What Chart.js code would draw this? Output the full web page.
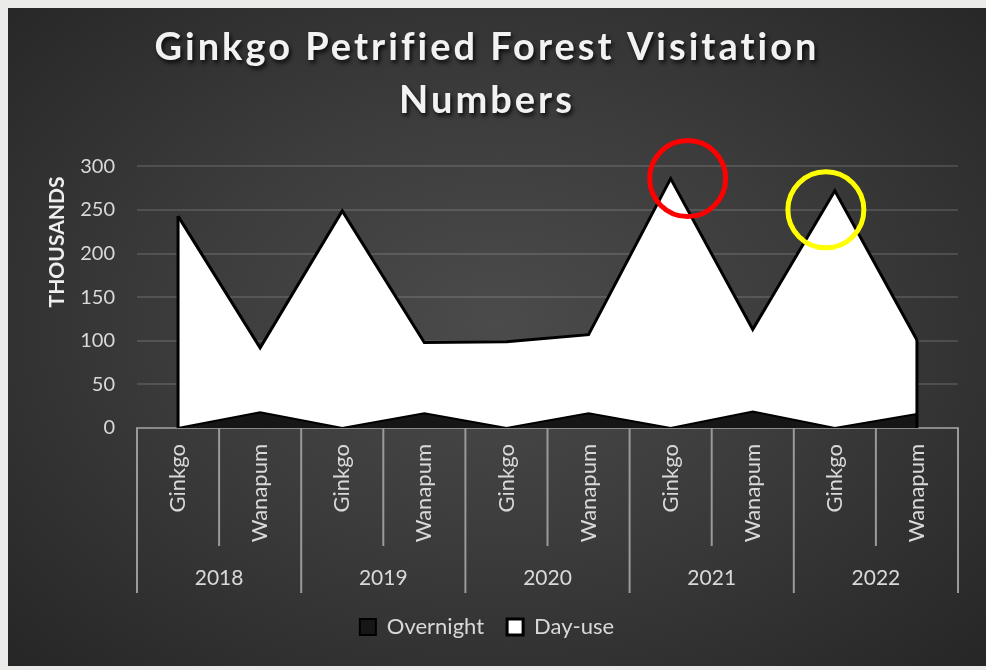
<!DOCTYPE html>
<html>
<head>
<meta charset="utf-8">
<script src="https://cdn.jsdelivr.net/npm/chart.js@4.4.0/dist/chart.umd.min.js"></script>
<style>
  body { margin: 0; background: #ebebea; }
  #box {
    position: absolute; left: 8px; top: 8px; width: 978px; height: 658px;
    background: radial-gradient(ellipse at 50% 48%, #4b4b4b 0%, #3c3c3c 45%, #262626 100%);
  }
</style>
</head>
<body>
<div id="box"><canvas id="visits" width="978" height="658"></canvas></div>
<script>
// categories
const sites = ['Ginkgo', 'Wanapum', 'Ginkgo', 'Wanapum', 'Ginkgo', 'Wanapum', 'Ginkgo', 'Wanapum', 'Ginkgo', 'Wanapum']
const years = ['2018', '2019', '2020', '2021', '2022']

// values in thousands
const overnight = [0, 18, 0, 17, 0, 17, 0, 19, 0, 16]
const dayUse = [243, 74, 249, 81, 99, 90, 286, 94, 272, 85]

const yTicks = [0, 50, 100, 150, 200, 250, 300]

const FONT = 'Lato, "Open Sans", sans-serif'
const LIGHT = '#d9d9d9'

//separator lines under the axis, plus edges of the day-use area and the two circles
const extras = {
    id: 'extras',
    afterDatasetsDraw(chart) {
        const ctx = chart.ctx
        const pts = chart.getDatasetMeta(1).data
        const bottom = chart.scales.y.getPixelForValue(0)
        ctx.save()
        ctx.strokeStyle = '#000'
        ctx.lineWidth = 3
        ;[pts[0], pts[pts.length - 1]].forEach(p => {
            ctx.beginPath()
            ctx.moveTo(p.x, p.y)
            ctx.lineTo(p.x, bottom)
            ctx.stroke()
        })
        ctx.restore()
    },
    afterDraw(chart) {
        const ctx = chart.ctx
        const x = chart.scales.x
        const yr = chart.scales.year
        ctx.save()
        ctx.strokeStyle = '#9a9a9a'
        ctx.lineWidth = 2
        for (let i = 0; i <= sites.length; i++) {
            let px
            if (i == 0) px = x.left
            else if (i == sites.length) px = x.right
            else px = (x.getPixelForValue(i - 1) + x.getPixelForValue(i)) / 2
            const end = (i % 2 == 0) ? yr.bottom : x.bottom - 2
            ctx.beginPath()
            ctx.moveTo(px, x.top)
            ctx.lineTo(px, end)
            ctx.stroke()
        }
        // highlight circles around the Ginkgo peaks
        const meta = chart.getDatasetMeta(1)
        const rings = [[6, 17, 0, '#ff0000'], [8, -9, 19, '#ffff00']]
        ctx.lineWidth = 5
        rings.forEach(([idx, dx, dy, col]) => {
            const p = meta.data[idx]
            ctx.strokeStyle = col
            ctx.beginPath()
            ctx.arc(p.x + dx, p.y + dy, 38, 0, Math.PI * 2)
            ctx.stroke()
        })
        ctx.restore()
    }
}

const config = {
    type: 'line',
    data: {
        labels: sites,
        datasets: [{
            label: 'Overnight',
            data: overnight,
            fill: 'origin',
            backgroundColor: '#161616',
            borderColor: '#000',
            borderWidth: 2,
            pointRadius: 0,
            tension: 0
        }, {
            label: 'Day-use',
            data: dayUse,
            fill: '-1',
            backgroundColor: '#ffffff',
            borderColor: '#000',
            borderWidth: 3,
            pointRadius: 0,
            tension: 0
        }]
    },
    options: {
        responsive: false,
        animation: false,
        layout: { padding: { left: 8, right: 28, top: 0, bottom: 18 } },
        plugins: {
            title: {
                display: true,
                text: ['Ginkgo Petrified Forest Visitation', 'Numbers'],
                color: '#f2f2f2',
                font: { family: FONT, size: 38, weight: 'bold', lineHeight: 1.4 },
                padding: { top: 13, bottom: 39 }
            },
            legend: {
                position: 'bottom',
                labels: {
                    color: LIGHT,
                    font: { family: FONT, size: 22 },
                    boxWidth: 16,
                    boxHeight: 16,
                    padding: 23
                }
            },
            tooltip: { enabled: false }
        },
        scales: {
            x: {
                offset: true,
                grid: { display: false, drawTicks: false },
                border: { display: true, color: '#8a8a8a', width: 2 },
                ticks: {
                    color: LIGHT,
                    font: { family: FONT, size: 22 },
                    minRotation: 90,
                    maxRotation: 90,
                    padding: 16,
                    autoSkip: false
                },
                afterFit: s => { s.height = 120 }
            },
            year: {
                type: 'category',
                labels: years,
                position: 'bottom',
                offset: true,
                grid: { display: false, drawTicks: false },
                border: { display: false },
                ticks: {
                    color: LIGHT,
                    font: { family: FONT, size: 21 },
                    maxRotation: 0,
                    padding: 18
                },
                afterFit: s => { s.height = 45 }
            },
            y: {
                stacked: true,
                min: 0,
                max: 300,
                afterBuildTicks: s => { s.ticks = yTicks.map(v => ({ value: v })) },
                grid: { color: 'rgba(255,255,255,0.13)', lineWidth: 2, drawTicks: false },
                border: { display: false },
                ticks: {
                    color: LIGHT,
                    font: { family: FONT, size: 20 },
                    padding: 22
                },
                title: {
                    display: true,
                    text: 'THOUSANDS  ',
                    align: 'end',
                    color: '#eeeeee',
                    font: { family: FONT, size: 21, weight: 'bold' },
                    padding: { top: 29, bottom: 0 }
                },
                afterFit: s => { s.width = 121 }
            }
        }
    },
    plugins: [extras]
}

const visitsChart = new Chart(document.getElementById('visits'), config)

// soft shadow and wider spacing on the title text
const tb = visitsChart.titleBlock
const drawTitle = tb.draw.bind(tb)
tb.draw = function() {
    const ctx = visitsChart.ctx
    ctx.save()
    ctx.letterSpacing = '3px'
    ctx.shadowColor = 'rgba(0,0,0,0.8)'
    ctx.shadowOffsetX = 2
    ctx.shadowOffsetY = 3
    ctx.shadowBlur = 4
    drawTitle()
    ctx.restore()
}
visitsChart.draw()
</script>
</body>
</html>
